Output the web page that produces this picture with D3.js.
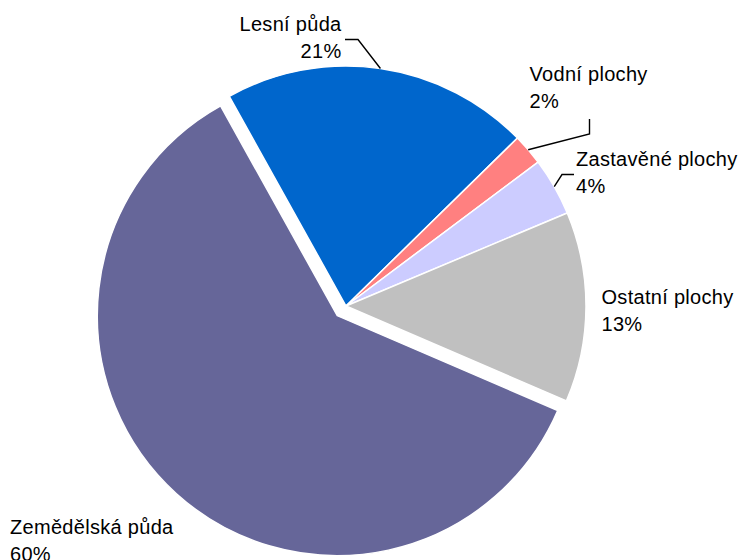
<!DOCTYPE html>
<html>
<head>
<meta charset="utf-8">
<script src="https://cdn.jsdelivr.net/npm/d3@7"></script>
<style>
  html, body { margin: 0; padding: 0; background: #fff; }
  svg { display: block; }
  text { font-family: "Liberation Sans", Arial, sans-serif; font-size: 20px; letter-spacing: 0.3px; fill: #000; }
</style>
</head>
<body>
<svg id="chart" width="744" height="560"></svg>
<script>
// ---- data ----
const categories = ["Lesní půda", "Vodní plochy", "Zastavěné plochy", "Ostatní plochy", "Zemědělská půda"];
const values = [20.75, 2.1, 3.9, 12.8, 60.45];
const colors = ["#0066CC", "#FF8080", "#CCCCFF", "#C0C0C0", "#666699"];
const exploded = [false, false, false, false, true];

// ---- layout ----
const W = 744, H = 560;
const cx = 346, cy = 306, R = 240;
const explodeDist = 13;
const startDeg = -29.1;
const lineGap = 26.5;

// label placement (layout only)
const labelLayout = {
  "Lesní půda":       { x: 341.5, y: 31,  anchor: "end",   leader: [[358, 39.5], [345, 39.5]] },
  "Vodní plochy":     { x: 529.5, y: 81,  anchor: "start", leader: [[589.5, 134], [589.5, 119]] },
  "Zastavěné plochy": { x: 576, y: 166, anchor: "start", leader: [[562, 174.5], [574, 174.5]] },
  "Ostatní plochy":   { x: 601.5, y: 304, anchor: "start", leader: null },
  "Zemědělská půda":  { x: 10,  y: 534, anchor: "start", leader: null }
};

const svg = d3.select("#chart");
const total = d3.sum(values);
const start = startDeg * Math.PI / 180;
const pie = d3.pie().sort(null).value(d => d.v).startAngle(start).endAngle(start + 2 * Math.PI);
const data = categories.map((c, i) => ({ name: c, v: values[i], color: colors[i], ex: exploded[i] }));
const arcs = pie(data);
const arcGen = d3.arc().innerRadius(0).outerRadius(R);

const g = svg.append("g").attr("transform", `translate(${cx},${cy})`);

g.selectAll("path.slice")
  .data(arcs)
  .join("path")
  .attr("class", "slice")
  .attr("d", arcGen)
  .attr("fill", d => d.data.color)
  .attr("stroke", "#fff")
  .attr("stroke-width", 1.5)
  .attr("stroke-linejoin", "round")
  .attr("transform", d => {
    if (!d.data.ex) return null;
    const m = (d.startAngle + d.endAngle) / 2;
    return `translate(${Math.sin(m) * explodeDist},${-Math.cos(m) * explodeDist})`;
  });

// leader lines
arcs.forEach(d => {
  const L = labelLayout[d.data.name];
  if (!L || !L.leader) return;
  const m = (d.startAngle + d.endAngle) / 2;
  const p0 = [cx + Math.sin(m) * R, cy - Math.cos(m) * R];
  const pts = [p0].concat(L.leader);
  svg.append("path")
    .attr("d", d3.line()(pts))
    .attr("fill", "none")
    .attr("stroke", "#000")
    .attr("stroke-width", 1.4);
});

// labels
arcs.forEach(d => {
  const L = labelLayout[d.data.name];
  const pct = Math.round(d.data.v / total * 100) + "%";
  const t = svg.append("text")
    .attr("x", L.x)
    .attr("y", L.y)
    .attr("text-anchor", L.anchor);
  t.append("tspan").attr("x", L.x).attr("y", L.y).text(d.data.name);
  t.append("tspan").attr("x", L.x).attr("y", L.y + lineGap).text(pct);
});
</script>
</body>
</html>
